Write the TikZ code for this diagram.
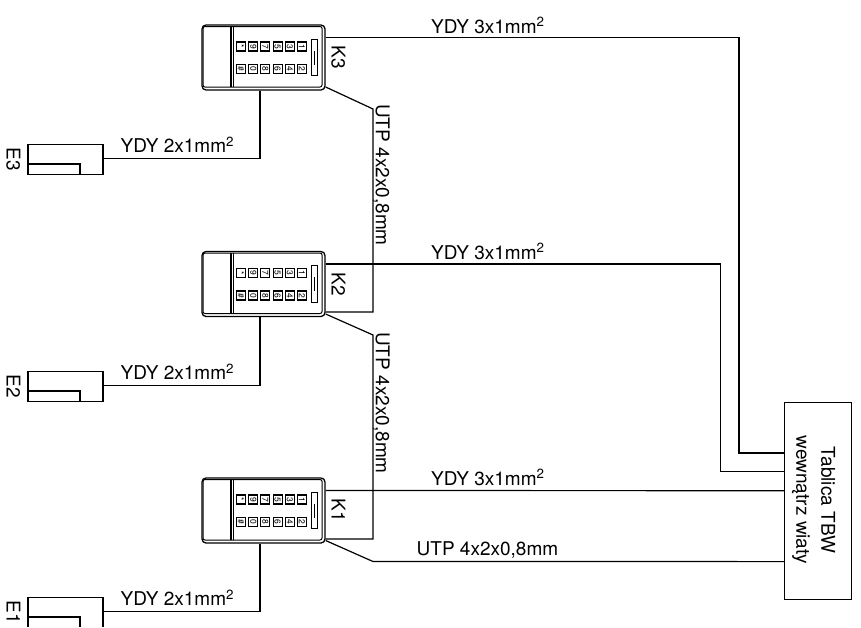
\documentclass[tikz,border=0pt]{standalone}
\usepackage{fontspec}
\setmainfont{TeX Gyre Heros}
\tikzset{
	wire/.style={draw=black,line width=1.2pt},
	kbody/.style={draw,line width=1.3pt,rounded corners=4pt,minimum width=123pt,minimum height=65pt,inner sep=0pt},
	ebox/.style={draw,line width=1.2pt,minimum width=75pt,minimum height=30pt,inner sep=0pt},
	tbox/.style={draw,line width=1.2pt,minimum width=67pt,minimum height=197pt,inner sep=0pt},
	keycap/.style={draw,line width=1.1pt,minimum width=9pt,minimum height=9pt,inner sep=0pt,font=\fontsize{8.5}{8.5}\selectfont,rotate=-90},
	lbl/.style={font=\fontsize{19}{22}\selectfont,inner sep=0pt},
	vlbl/.style={lbl,rotate=-90}
}
\newcommand{\mmsq}{mm\textsuperscript{2}}
\begin{document}
\begin{tikzpicture}[x=1pt,y=-1pt]
	\useasboundingbox (0,0) rectangle (861,627);
	\clip (0,0) rectangle (861,626.5);
	% keypad unit
	\def\kpad#1#2{
		\node[kbody] (K#1) at (263.5,#2) {};
		\begin{scope}[shift={(263.5,#2)}]
			\draw[line width=1pt,rounded corners=2pt] (-60.5,-31) rectangle (58.5,29.5);
			\draw[line width=1.1pt] (-32.5,-31) -- (-32.5,29.5);
			\draw[line width=1.1pt] (-29.8,-31) -- (-29.8,29.5);
			\draw[line width=1.1pt] (48.2,-18.2) rectangle (54,18.2);
			\draw[line width=0.7pt] (51.1,-7) -- (51.1,7);
			\foreach \s [count=\i from 0] in {*,9,7,5,3,1}{
				\node[keycap] (K#1a\i) at (-22.5+12.2*\i,-11) {\s};
			}
			\foreach \s [count=\i from 0] in {\#,0,8,6,4,2}{
				\node[keycap] (K#1b\i) at (-22.5+12.2*\i,11.5) {\s};
			}
		\end{scope}
		\node[vlbl] (K#1txt) at (338.5,#2) {K#1};
	}
	% door contact
	\def\ebx#1#2{
		\node[ebox] (E#1) at (65.5,#2) {};
		\draw[wire] ([yshift=-4.75pt]E#1.west) -| ([xshift=14.5pt]E#1.south);
		\node[vlbl] (E#1txt) at (13.5,#2) {E#1};
		\draw[wire] ([xshift=-3.5pt]K#1.south) |- ([yshift=1pt]E#1.east);
		\node[lbl,anchor=base west] (E#1cab) at (120.5,#2-6.5) {YDY 2x1\mmsq};
	}
	\kpad{3}{57.5}
	\kpad{2}{284}
	\kpad{1}{510.5}
	\ebx{3}{159.25}
	\ebx{2}{386.25}
	\ebx{1}{612.25}
	% switchboard
	\node[tbox] (TBW) at (818.3,500.6) {};
	\node[lbl,rotate=-90,align=center,font=\fontsize{19}{25}\selectfont] (TBWtxt) at (813.5,500) {Tablica TBW\\wewnątrz wiaty};
	\coordinate (t3) at ([yshift=47.6pt]TBW.west);
	\coordinate (t2) at ([yshift=29.3pt]TBW.west);
	\coordinate (t1) at ([yshift=9.9pt]TBW.west);
	\coordinate (t0) at ([yshift=-61pt]TBW.west);
	\coordinate (b3) at (739,0);
	\coordinate (b2) at (720.5,0);
	\coordinate (u3) at (373,109);
	\coordinate (u2) at (373,335);
	\coordinate (u1) at (373,561.5);
	% power lines
	\draw[wire] ([yshift=20pt]K3.east) -| (b3 |- t3) -- (t3);
	\draw[wire] ([yshift=20pt]K2.east) -| (b2 |- t2) -- (t2);
	\draw[wire] ([yshift=20pt]K1.east) -- (t1);
	% data lines
	\draw[wire] ([yshift=-29.5pt]K3.east) -- (u3) |- ([yshift=-28pt]K2.east);
	\draw[wire] ([yshift=-30pt]K2.east) -- (u2) |- ([yshift=-28.5pt]K1.east);
	\draw[wire] ([yshift=-30pt]K1.east) -- (u1) -- (t0);
	\node[lbl,anchor=base west] (c3) at (431,33) {YDY 3x1\mmsq};
	\node[lbl,anchor=base west] (c2) at (431,259) {YDY 3x1\mmsq};
	\node[lbl,anchor=base west] (c1) at (431,485) {YDY 3x1\mmsq};
	\node[lbl,anchor=base west] (c0) at (416.5,555) {UTP 4x2x0,8mm};
	\node[vlbl] (v3) at (381.5,175) {UTP 4x2x0,8mm};
	\node[vlbl] (v2) at (381.5,403) {UTP 4x2x0,8mm};
\end{tikzpicture}
\end{document}
